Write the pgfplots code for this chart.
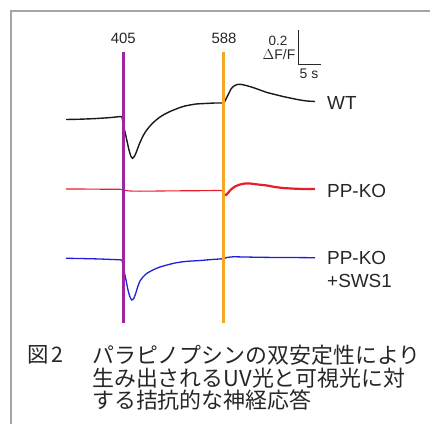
\documentclass[border=0pt]{standalone}
\usepackage{pgfplots}
\pgfplotsset{compat=1.18}
\usepackage{fontspec}
\setmainfont{Liberation Sans}
\newfontfamily\jp{Noto Sans CJK JP}
\definecolor{uvpurple}{RGB}{158,38,160}
\definecolor{visorange}{RGB}{246,166,35}
\definecolor{trred}{RGB}{230,30,40}
\definecolor{trblue}{RGB}{30,30,220}
\definecolor{framegray}{RGB}{165,165,165}
\begin{document}
\begin{tikzpicture}[x=1bp,y=1bp]
\begin{axis}[at={(0,0)}, anchor=south west, scale only axis,
  width=430bp, height=424bp, xmin=0, xmax=430, ymin=0, ymax=424,
  y dir=reverse, hide axis, clip=false]
% frame
\addplot[framegray, line width=2.5bp] coordinates {(11,430) (11,11) (440,11)};
% WT
\addplot[black!90, line width=1.4bp, smooth, tension=0.3] coordinates {
(66,119.5)(80,119.2)(95,118.6)(110,117.6)(121,116.5)
(122,117)(123.5,126)(125,132)(127,141)(129,150)(131,156.5)(132.5,158.3)(134,157)(136,153)(138,147.5)(140,142.5)(143,136)(146,131)(150,126)(155,121)(160,117)(165,114)(170,111.5)(175,109.5)(180,107.5)(185,106)(190,105)(196,104)(205,103.5)(215,103)(222,103)(223.5,103.3)
(225,101)(227,97)(229,93)(231,89)(234,86)(237,84.6)(240,84.3)(244,85)(248,86)(253,87.5)(260,90)(267,92.5)(275,94.5)(283,96.5)(290,98)(300,100)(307,101)(315,101.5)};
% PP-KO
\addplot[trred, line width=1.1bp, smooth, tension=0.3] coordinates {
(66,189)(80,189)(100,189.2)(120,189.3)(122,189.5)(126,190.5)(130,191)(140,191.2)(160,191)(180,190.8)(200,190.7)(222,190.6)(224,194)};
\addplot[trred, line width=2.2bp, smooth, tension=0.3] coordinates {
(224,194)(226,195)(228,193)(231,189.5)(235,186.5)(240,184.5)(245,183.5)(250,183.5)(258,184.5)(267,185.5)(275,187)(283,188)(295,188.7)(305,189)(315,189)};
% PP-KO + SWS1
\addplot[trblue, line width=1.3bp, smooth, tension=0.3] coordinates {
(66,258.3)(80,258.5)(100,259)(120,259.8)(122,260)(123.5,268)(124.5,273)(126,280)(128,290)(130,297)(131.7,300)(133.5,299)(135.5,294)(138,286)(140,281)(143,277)(146,274)(150,271.5)(155,269)(160,267)(167,265)(175,263)(185,261.5)(200,260.5)(212,259.5)(222,258.8)(224,258.5)(227,257.5)(233,256.8)(245,257)(260,257.3)(280,257.5)(300,257.6)(315,257.7)};
% stimulus lines
\addplot[uvpurple, line width=3bp] coordinates {(123.3,51.7) (123.3,322.7)};
\addplot[visorange, line width=3bp] coordinates {(223.3,51.7) (223.3,322.7)};
% scale bar
\addplot[black!85, line width=1.2bp] coordinates {(298.3,30) (298.3,64.3) (320.7,64.3)};
% labels
\node[inner sep=0, font=\fontsize{15}{17}\selectfont, text=black!85] at (axis cs:123.3,38.3) {405};
\node[inner sep=0, font=\fontsize{15}{17}\selectfont, text=black!85] at (axis cs:224,38.3) {588};
\node[inner sep=0, font=\fontsize{13.5}{15}\selectfont, text=black!85] at (axis cs:278,40.7) {0.2};
\node[inner sep=0, font=\fontsize{14}{15}\selectfont, text=black!85] at (axis cs:279,55) {$\Delta$F/F};
\node[inner sep=0, font=\fontsize{14}{15}\selectfont, text=black!85] at (axis cs:309,73.3) {5 s};
\node[inner sep=0, anchor=west, font=\fontsize{19}{21}\selectfont, text=black!85] at (axis cs:327,103) {WT};
\node[inner sep=0, anchor=west, font=\fontsize{19}{21}\selectfont, text=black!85] at (axis cs:327,191) {PP-KO};
\node[inner sep=0, anchor=west, font=\fontsize{19}{21}\selectfont, text=black!85] at (axis cs:327,258) {PP-KO};
\node[inner sep=0, anchor=west, font=\fontsize{19}{21}\selectfont, text=black!85] at (axis cs:327,281) {+SWS1};
% caption
\node[inner sep=0, anchor=west, font=\jp\fontsize{21.5}{23}\selectfont, text=black!85] at (axis cs:27,355) {図\hspace{3bp}2};
\node[inner sep=0, anchor=west, font=\jp\fontsize{22}{23}\selectfont, text=black!85] at (axis cs:92,355) {パラピノプシンの双安定性により};
\node[inner sep=0, anchor=west, font=\jp\fontsize{22}{23}\selectfont, text=black!85] at (axis cs:92,378) {生み出されるUV光と可視光に対};
\node[inner sep=0, anchor=west, font=\jp\fontsize{22}{23}\selectfont, text=black!85] at (axis cs:92,400.5) {する拮抗的な神経応答};
\end{axis}
\pgfresetboundingbox
\path[use as bounding box] (0,0) rectangle (430,424);
\end{tikzpicture}
\end{document}
